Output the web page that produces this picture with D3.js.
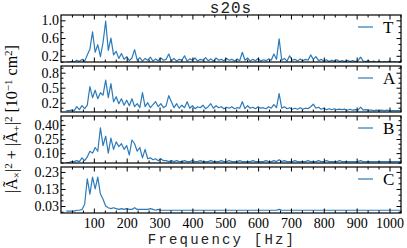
<!DOCTYPE html>
<html><head><meta charset="utf-8">
<script src="https://cdn.jsdelivr.net/npm/d3@7"></script>
<style>body{margin:0;background:#fff}svg{display:block}</style>
</head><body><svg id="c" width="407" height="248"></svg>
<script>
// ---------- data ----------
const freqs = [16,24,32,40,48,56,64,72,80,88,96,104,112,120,128,136,144,152,160,168,176,184,192,200,208,216,224,232,240,248,256,264,272,280,288,296,304,312,320,328,336,344,352,360,368,376,384,392,400,408,416,424,432,440,448,456,464,472,480,488,496,504,512,520,528,536,544,552,560,568,576,584,592,600,608,616,624,632,640,648,656,664,672,680,688,696,704,712,720,728,736,744,752,760,768,776,784,792,800,808,816,824,832,840,848,856,864,872,880,888,896,904,912,920,928,936,944,952,960,968,976,984,992,1000,1008,1016,1024,1032];

const seriesNames = ["T","A","B","C"];

const valuesT = [0.06,0.06,0.07,0.06,0.10,0.07,0.12,0.08,0.22,0.35,
 0.74,0.28,0.45,0.18,0.50,0.98,0.32,0.60,0.22,0.30,
 0.14,0.25,0.12,0.18,0.09,0.15,0.34,0.10,0.16,0.08,
 0.14,0.10,0.17,0.08,0.13,0.09,0.15,0.10,0.12,0.24,
 0.09,0.14,0.08,0.12,0.10,0.20,0.08,0.13,0.10,0.15,
 0.08,0.12,0.10,0.16,0.09,0.13,0.08,0.15,0.10,0.12,
 0.09,0.14,0.10,0.12,0.08,0.13,0.09,0.28,0.10,0.15,
 0.08,0.12,0.09,0.14,0.08,0.11,0.09,0.13,0.10,0.24,
 0.12,0.58,0.10,0.14,0.08,0.20,0.10,0.12,0.08,0.13,
 0.09,0.12,0.10,0.22,0.12,0.18,0.09,0.12,0.08,0.11,
 0.07,0.10,0.08,0.11,0.07,0.09,0.07,0.10,0.07,0.09,
 0.07,0.09,0.17,0.08,0.07,0.09,0.06,0.08,0.06,0.07,
 0.06,0.07,0.06,0.08,0.06,0.07,0.06,0.06];

const valuesA = [0.04,0.04,0.05,0.04,0.12,0.06,0.14,0.08,0.15,0.52,
 0.30,0.45,0.28,0.40,0.35,0.65,0.30,0.58,0.22,0.32,
 0.18,0.28,0.15,0.25,0.14,0.28,0.12,0.18,0.10,0.40,
 0.12,0.20,0.10,0.16,0.22,0.12,0.18,0.10,0.14,0.34,
 0.22,0.10,0.18,0.09,0.15,0.10,0.22,0.09,0.14,0.08,
 0.12,0.10,0.15,0.08,0.12,0.18,0.09,0.14,0.10,0.12,
 0.08,0.11,0.09,0.12,0.08,0.10,0.09,0.22,0.08,0.14,
 0.09,0.11,0.08,0.12,0.09,0.10,0.08,0.12,0.09,0.16,
 0.10,0.38,0.09,0.12,0.08,0.10,0.07,0.09,0.07,0.10,
 0.07,0.09,0.08,0.12,0.17,0.09,0.11,0.07,0.09,0.06,
 0.08,0.06,0.08,0.06,0.07,0.06,0.07,0.05,0.07,0.05,
 0.06,0.05,0.11,0.05,0.06,0.05,0.05,0.04,0.05,0.04,
 0.05,0.04,0.05,0.04,0.04,0.04,0.04,0.04];

const valuesB = [0.00,0.00,0.01,0.01,0.02,0.01,0.05,0.02,0.06,0.12,
 0.10,0.16,0.12,0.37,0.18,0.28,0.10,0.26,0.14,0.22,
 0.17,0.20,0.14,0.18,0.08,0.24,0.20,0.12,0.16,0.05,
 0.14,0.04,0.05,0.03,0.04,0.02,0.04,0.02,0.02,0.01,
 0.02,0.01,0.02,0.01,0.01,0.02,0.01,0.01,0.02,0.01,
 0.01,0.02,0.01,0.01,0.01,0.02,0.01,0.01,0.01,0.02,
 0.01,0.01,0.02,0.01,0.01,0.01,0.02,0.01,0.01,0.01,
 0.01,0.02,0.01,0.01,0.01,0.01,0.02,0.01,0.01,0.02,
 0.01,0.03,0.01,0.02,0.01,0.01,0.01,0.02,0.01,0.01,
 0.01,0.01,0.02,0.01,0.01,0.01,0.02,0.01,0.01,0.02,
 0.01,0.01,0.01,0.01,0.02,0.01,0.01,0.01,0.01,0.01,
 0.01,0.01,0.02,0.01,0.01,0.01,0.01,0.01,0.01,0.01,
 0.01,0.01,0.01,0.01,0.01,0.01,0.01,0.01];

const valuesC = [0.00,0.00,0.00,0.00,0.005,0.005,0.01,0.04,0.19,0.10,
 0.20,0.13,0.20,0.10,0.07,0.03,0.02,0.015,0.02,0.015,
 0.01,0.015,0.01,0.015,0.01,0.01,0.02,0.01,0.01,0.01,
 0.01,0.01,0.015,0.01,0.005,0.01,0.005,0.005,0.005,0.005,
 0.005,0.005,0.005,0.005,0.005,0.005,0.005,0.005,0.005,0.005,
 0.005,0.005,0.005,0.005,0.005,0.005,0.005,0.005,0.005,0.005,
 0.005,0.005,0.005,0.005,0.005,0.005,0.005,0.005,0.005,0.005,
 0.005,0.005,0.005,0.005,0.005,0.005,0.005,0.005,0.005,0.005,
 0.005,0.01,0.005,0.005,0.005,0.005,0.005,0.005,0.005,0.005,
 0.005,0.005,0.005,0.005,0.005,0.005,0.005,0.005,0.005,0.005,
 0.005,0.005,0.005,0.005,0.005,0.005,0.005,0.005,0.005,0.005,
 0.005,0.005,0.005,0.005,0.005,0.005,0.005,0.005,0.005,0.005,
 0.005,0.005,0.005,0.005,0.005,0.005,0.005,0.005];

const xTickValues = [100,200,300,400,500,600,700,800,900,1000];
const yTickValuesT = [0.2,0.6,1.0];
const yTickLabelsT = ["0.2","0.6","1.0"];
const yTickValuesA = [0.2,0.5,0.8];
const yTickLabelsA = ["0.2","0.5","0.8"];
const yTickValuesB = [0.10,0.25,0.40];
const yTickLabelsB = ["0.10","0.25","0.40"];
const yTickValuesC = [0.03,0.13,0.23];
const yTickLabelsC = ["0.03","0.13","0.23"];

// ---------- layout ----------
const svg = d3.select("#c");
const L = 61, R = 401;
const color = "#2b7bba";
const serif = "'Liberation Serif', 'DejaVu Serif', serif";
const mono = "'Liberation Mono', 'DejaVu Sans Mono', monospace";

const panels = [
  {name:"T", vals:valuesT, top:15,  bot:62,  dom:[0.06,1.12],    ticks:yTickValuesT, labels:yTickLabelsT},
  {name:"A", vals:valuesA, top:66,  bot:112, dom:[0.014,0.934],  ticks:yTickValuesA, labels:yTickLabelsA},
  {name:"B", vals:valuesB, top:116, bot:163, dom:[-0.005,0.495], ticks:yTickValuesB, labels:yTickLabelsB},
  {name:"C", vals:valuesC, top:167, bot:213, dom:[-0.011,0.259], ticks:yTickValuesC, labels:yTickLabelsC}
];

const x = d3.scaleLinear().domain([0,1035]).range([L,R]);
const xMinor = d3.range(1,32).map(k=>k*100/3).filter((v,i)=>(i+1)%3!==0 && v<1035);

function styleAxis(g){
  g.select(".domain").remove();
  g.selectAll(".tick line").attr("stroke","#000").attr("stroke-width",1);
  g.selectAll("text").attr("font-family",serif).attr("font-size",14).attr("fill","#000");
}

panels.forEach((p,pi)=>{
  const y = d3.scaleLinear().domain(p.dom).range([p.bot,p.top]);
  const step = (p.ticks[1]-p.ticks[0])/3;
  const yMinor = [];
  for(let v=p.ticks[0]-3*step; v<=p.dom[1]; v+=step){
    if(v>=p.dom[0] && !p.ticks.some(t=>Math.abs(t-v)<1e-9)) yMinor.push(v);
  }
  const g = svg.append("g");
  const cid = "clip"+pi;
  svg.append("clipPath").attr("id",cid).append("rect")
    .attr("x",L).attr("y",p.top).attr("width",R-L).attr("height",p.bot-p.top);

  const line = d3.line().x((d,i)=>x(freqs[i])).y(d=>y(d));
  g.append("path").datum(p.vals).attr("clip-path",`url(#${cid})`)
    .attr("d",line).attr("fill","none").attr("stroke",color)
    .attr("stroke-width",1.2).attr("stroke-linejoin","round");

  const gl = g.append("g").attr("transform",`translate(${L},0)`)
    .call(d3.axisLeft(y).tickValues(p.ticks).tickSize(-4.5).tickPadding(2)
      .tickFormat((d,i)=>p.labels[i]));
  styleAxis(gl);
  const glm = g.append("g").attr("transform",`translate(${L},0)`)
    .call(d3.axisLeft(y).tickValues(yMinor).tickSize(-2.5).tickFormat(""));
  styleAxis(glm);
  const gr = g.append("g").attr("transform",`translate(${R},0)`)
    .call(d3.axisRight(y).tickValues(p.ticks).tickSize(-4.5).tickFormat(""));
  styleAxis(gr);
  const grm = g.append("g").attr("transform",`translate(${R},0)`)
    .call(d3.axisRight(y).tickValues(yMinor).tickSize(-2.5).tickFormat(""));
  styleAxis(grm);
  const gt = g.append("g").attr("transform",`translate(0,${p.top})`)
    .call(d3.axisTop(x).tickValues(xTickValues).tickSize(-4.5).tickFormat(""));
  styleAxis(gt);
  const gtm = g.append("g").attr("transform",`translate(0,${p.top})`)
    .call(d3.axisTop(x).tickValues(xMinor).tickSize(-2.5).tickFormat(""));
  styleAxis(gtm);
  const gb = g.append("g").attr("transform",`translate(0,${p.bot})`)
    .call(d3.axisBottom(x).tickValues(xTickValues).tickSize(-4.5).tickPadding(5)
      .tickFormat(pi===panels.length-1 ? d3.format("d") : ""));
  styleAxis(gb);
  const gbm = g.append("g").attr("transform",`translate(0,${p.bot})`)
    .call(d3.axisBottom(x).tickValues(xMinor).tickSize(-2.5).tickFormat(""));
  styleAxis(gbm);

  g.append("rect").attr("x",L).attr("y",p.top).attr("width",R-L).attr("height",p.bot-p.top)
    .attr("fill","none").attr("stroke","#000").attr("stroke-width",1.2);

  g.append("line").attr("x1",358).attr("x2",373).attr("y1",p.top+12).attr("y2",p.top+12)
    .attr("stroke",color).attr("stroke-width",1.2);
  g.append("text").attr("x",383).attr("y",p.top+18).text(p.name)
    .attr("font-family",serif).attr("font-size",17).attr("fill","#000");
});

// title
svg.append("text").attr("x",231).attr("y",13).attr("text-anchor","middle")
  .attr("font-family",mono).attr("font-size",16).attr("letter-spacing",1).attr("fill","#222").text("s20s");
// x label
svg.append("text").attr("x",222).attr("y",243.5).attr("text-anchor","middle")
  .attr("font-family",mono).attr("font-size",14).attr("letter-spacing",2.2).attr("fill","#222").text("Frequency [Hz]");

// y label
const yl = svg.append("text").attr("transform","translate(17,119) rotate(-90)")
  .attr("text-anchor","middle").attr("font-family",serif).attr("font-size",16).attr("fill","#000");
const parts = [
  ["|A\u0303",0,16],["\u00d7",3,11],["|",-3,16],["2",-5,11],
  [" + |A\u0303",5,16],["+",3,11],["|",-3,16],["2",-5,11],
  [" [10",5,16],["\u22121",-5,11],[" cm",5,16],["2",-5,11],["]",5,16]
];
parts.forEach(([t,dy,fs])=>yl.append("tspan").attr("dy",dy).attr("font-size",fs).text(t));
</script></body></html>
